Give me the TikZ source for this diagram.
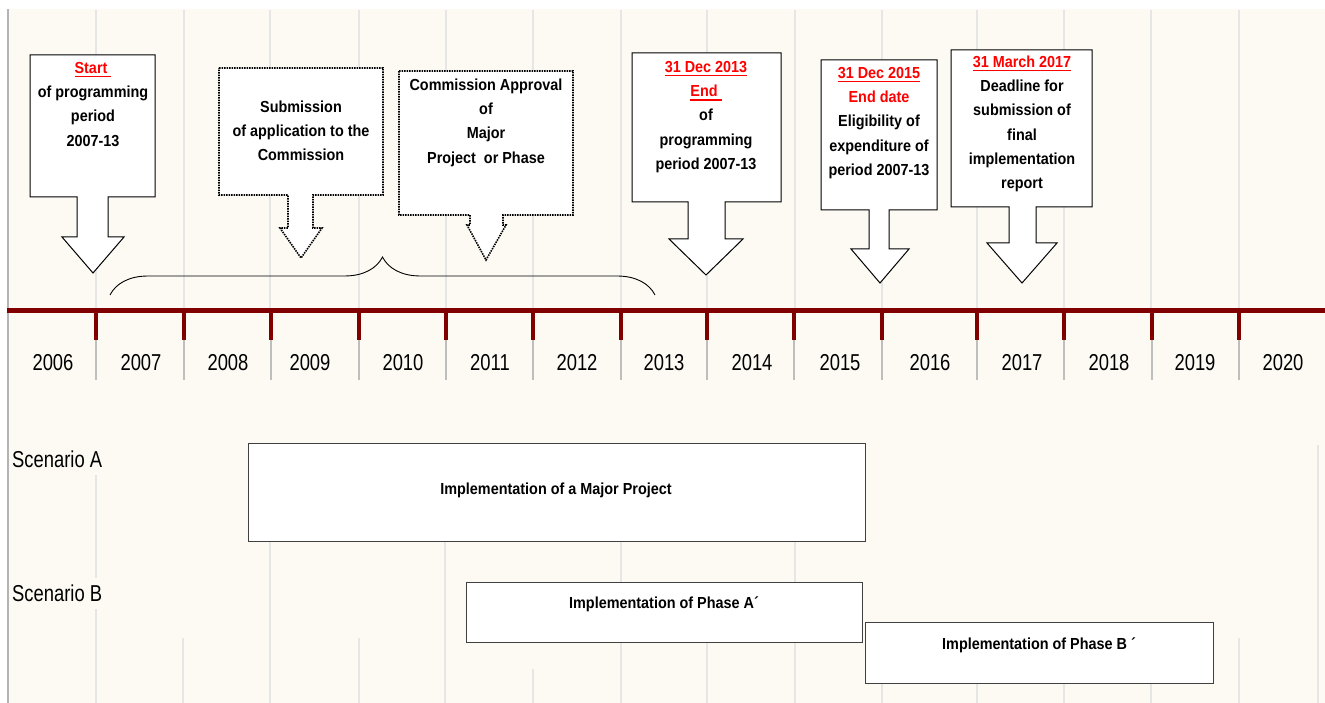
\documentclass[tikz,border=0pt]{standalone}
\usepackage{fontspec}
\setmainfont{Liberation Sans}
\newfontfamily\notefont[FakeStretch=0.9]{Liberation Sans}
\newfontfamily\thinfont[FakeStretch=0.8]{Liberation Sans}
\usetikzlibrary{decorations.pathreplacing}
\usetikzlibrary{positioning}

\definecolor{paper}{RGB}{252,250,243}
\definecolor{axisred}{RGB}{128,0,0}
\definecolor{gridgray}{RGB}{230,230,230}
\definecolor{tickgray}{RGB}{190,190,190}
\definecolor{edgegray}{RGB}{180,180,180}

\tikzstyle{callout} = [draw=black, fill=white, line width=1pt, line join=miter]
\tikzstyle{dotcallout} = [draw=black, fill=white, line width=1.6pt,
                          dash pattern=on 1.5pt off 1pt]
\tikzstyle{note} = [anchor=north, align=center, inner sep=0pt,
                    font=\notefont\bfseries\fontsize{16}{24.3}\selectfont]
\tikzstyle{bar} = [draw=black!75, fill=white, line width=1.4pt,
                   anchor=north west, inner sep=0pt]
\tikzstyle{bartext} = [anchor=base, inner sep=0pt,
                       font=\notefont\bfseries\fontsize{16}{20}\selectfont]
\tikzstyle{year} = [inner sep=0pt, font=\thinfont\fontsize{23}{26}\selectfont]
\tikzstyle{scenario} = [anchor=west, inner sep=0pt,
                        font=\thinfont\fontsize{23}{26}\selectfont]
\tikzstyle{gridline} = [gridgray, line width=2pt]
\tikzstyle{redmark} = [axisred, line width=4pt]
\tikzstyle{graymark} = [tickgray, line width=2pt]

% red text with a thick underline
\newcommand{\redline}[1]{\textcolor{red}{\setbox0\hbox{#1}%
  \rlap{\rule[-4pt]{\wd0}{1.6pt}}\box0}}

\begin{document}
\begin{tikzpicture}[x=1pt, y=-1pt]
  \useasboundingbox (0,0) rectangle (1325,703);

  % Background and grid
  \fill[paper] (7,9) rectangle (1325,703);
  \foreach \x in {96,184,270,359,446,533,621,707,795,882,977,1064,1151,1239}
    \draw[gridline] (\x,10) -- (\x,308);
  \draw[gridline] (96,475) -- (96,578);
  \draw[gridline] (96,609) -- (96,703);
  \foreach \x/\ya in {183/638, 270/542, 359/638, 445/542, 533/669, 621/542,
                      707/638, 795/542, 882/638, 977/638, 1064/638,
                      1151/638, 1239/638, 1318/445}
    \draw[gridline] (\x,\ya) -- (\x,703);
  \draw[edgegray, line width=2pt] (7.5,9) -- (7.5,703);

  % Brace over the programming period
  \coordinate (braceL) at (110,295);
  \coordinate (braceR) at (655,295);
  \draw[decorate, decoration={brace, amplitude=38pt, aspect=0.5},
        line width=0.9pt] (braceL) -- (braceR);

  % Time axis
  \coordinate (axisL) at (7,311);
  \coordinate (axisR) at (1325,311);
  \draw[axisred, line width=5pt] (axisL) -- (axisR);
  \foreach \x in {96,184,270.5,358.5,445.5,533,620.5,707,794,881.5,976.5,
                  1063.5,1151.5,1239} {
    \draw[redmark] (\x,311) -- (\x,340);
    \draw[graymark] (\x,340) -- (\x,380);
  }
  \foreach \yr/\x in {2006/53, 2007/141, 2008/228, 2009/310, 2010/403,
                      2011/490, 2012/577, 2013/664, 2014/752, 2015/840,
                      2016/930, 2017/1022, 2018/1109, 2019/1195, 2020/1283}
    \node[year] (y\yr) at (\x,363) {\yr};

  % Callouts
  \draw[callout] (30,55) -- (155,55) -- (155,197) -- (108,197) -- (108,237)
    -- (124,237) -- (93,273) -- (62,237) -- (77,237) -- (77,197)
    -- (30,197) -- cycle;
  \node[note] (start) at (93,56)
    {\strut\redline{Start }\\of programming\\period\\2007-13};

  \draw[dotcallout] (219,68) -- (383,68) -- (383,195) -- (313,195)
    -- (313,228) -- (322,228) -- (301,258) -- (280,228) -- (288,228)
    -- (288,195) -- (219,195) -- cycle;
  \node[note] (submit) at (301,95)
    {\strut Submission\\of application to the\\Commission};

  \draw[dotcallout] (399,71) -- (573,71) -- (573,215) -- (503,215)
    -- (503,225) -- (506,225) -- (486,260) -- (467,225) -- (470,225)
    -- (470,215) -- (399,215) -- cycle;
  \node[note] (approve) at (486,73)
    {\strut Commission Approval\\of\\Major\\Project~ or Phase};

  \draw[callout] (632,53) -- (781,53) -- (781,202) -- (725,202) -- (725,239)
    -- (743,239) -- (706,275) -- (669,239) -- (688,239) -- (688,202)
    -- (632,202) -- cycle;
  \node[note] (end13) at (706,55)
    {\strut\redline{31 Dec 2013}\\\redline{End }\\of\\programming\\period 2007-13};

  \draw[callout] (821,60) -- (937,60) -- (937,210) -- (889,210) -- (889,249)
    -- (909,249) -- (880,283) -- (851,249) -- (869,249) -- (869,210)
    -- (821,210) -- cycle;
  \node[note] (end15) at (879,61)
    {\strut\redline{31 Dec 2015}\\\textcolor{red}{End date}\\Eligibility of\\expenditure of\\period 2007-13};

  \draw[callout] (951,50) -- (1092,50) -- (1092,207) -- (1036,207)
    -- (1036,243) -- (1057,243) -- (1022,283) -- (987,243) -- (1009,243)
    -- (1009,207) -- (951,207) -- cycle;
  \node[note] (report) at (1022,50)
    {\strut\redline{31 March 2017}\\Deadline for\\submission of\\final\\implementation\\report};

  % Scenarios
  \node[scenario] (scenA) at (12,459) {Scenario A};
  \node[scenario] (scenB) at (12,593) {Scenario B};

  \node[bar, minimum width=617, minimum height=98] (barA) at (248,443) {};
  \node[bartext] (barAtext) at (556,494) {Implementation of a Major Project};

  \node[bar, minimum width=396, minimum height=60] (phaseA) at (466,582) {};
  \node[bartext] (phaseAtext) at (664,608) {Implementation of Phase A´};

  \node[bar, minimum width=348, minimum height=61] (phaseB) at (865,622) {};
  \node[bartext] (phaseBtext) at (1039,649) {Implementation of Phase B ´};

\end{tikzpicture}
\end{document}
